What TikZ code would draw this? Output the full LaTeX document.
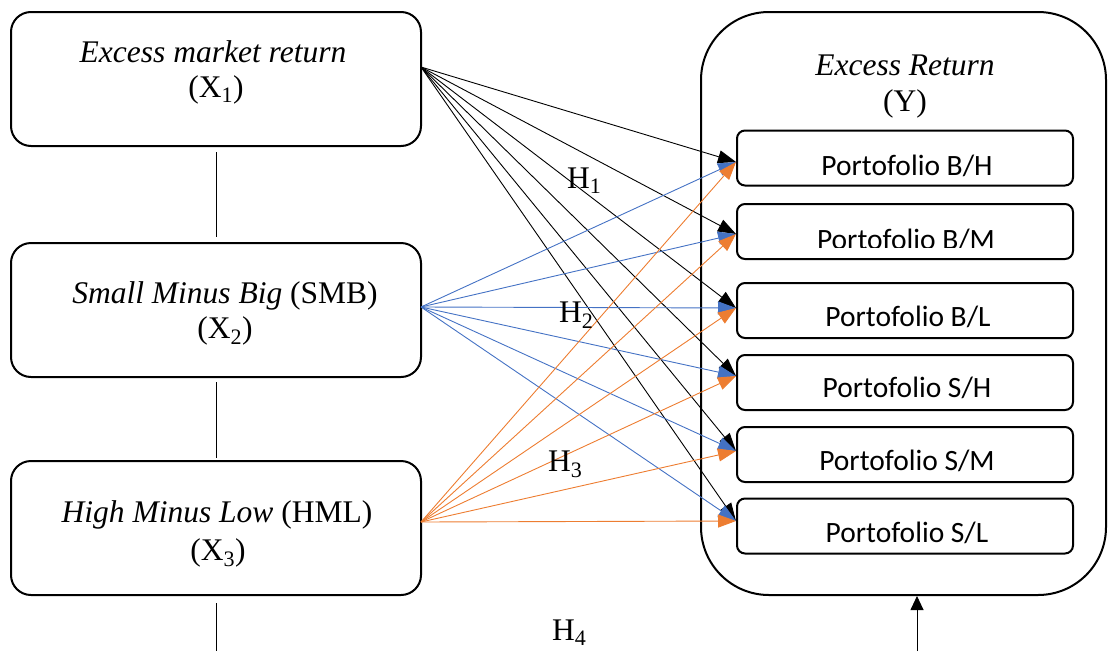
\documentclass[tikz,border=0pt]{standalone}
\usepackage{fontspec}
\setmainfont{Liberation Serif}
\newfontfamily\calfont{Carlito}
\usetikzlibrary{arrows.meta}
\definecolor{myblue}{HTML}{4472C4}
\definecolor{myorange}{HTML}{ED7D31}
\begin{document}
\begin{tikzpicture}[x=1pt,y=-1pt,
  leftbox/.style={draw, line width=2pt, rounded corners=20pt, minimum width=410pt, minimum height=134pt, inner sep=0pt},
  pbox/.style={draw, line width=2pt, rounded corners=8pt, minimum width=336pt, minimum height=55pt, inner sep=0pt},
  bigbox/.style={draw, line width=2pt, rounded corners=68pt, minimum width=405pt, minimum height=583pt, inner sep=0pt},
  serif/.style={anchor=base, inner sep=0pt, font=\fontsize{31.5}{35}\selectfont},
  ptext/.style={anchor=base, inner sep=0pt, font=\calfont\fontsize{29.5}{33}\selectfont},
  arr/.style={-{Triangle[length=18pt,width=13pt]}, line width=0.9pt},
  uparr/.style={-{Triangle[length=14pt,width=13pt]}, line width=0.9pt},
  plain/.style={line width=0.9pt}]
\useasboundingbox (0,0) rectangle (1108,651);

% left boxes
\node[leftbox] (b1) at (216,79) {};
\node[leftbox] (b2) at (216,310) {};
\node[leftbox] (b3) at (216,528) {};
\node[serif] (b1t1) at (213,62) {\textit{Excess market return}};
\node[serif] (b1t2) at (216,97) {(X\textsubscript{1})};
\node[serif] (b2t1) at (225,303) {\textit{Small Minus Big} (SMB)};
\node[serif] (b2t2) at (225,338) {(X\textsubscript{2})};
\node[serif] (b3t1) at (217,522) {\textit{High Minus Low} (HML)};
\node[serif] (b3t2) at (218,560) {(X\textsubscript{3})};

% vertical connectors
\coordinate (v1a) at (216,152); \coordinate (v1b) at (216,237);
\coordinate (v2a) at (216,382); \coordinate (v2b) at (216,458);
\coordinate (v3a) at (216,603); \coordinate (v3b) at (216,651);
\draw[plain] (v1a) -- (v1b);
\draw[plain] (v2a) -- (v2b);
\draw[plain] (v3a) -- (v3b);

% big box
\node[bigbox] (Y) at (903.5,303.5) {};
\node[serif] (Yt1) at (905,75) {\textit{Excess Return}};
\node[serif] (Yt2) at (905,111) {(Y)};

% portfolio boxes
\node[pbox] (p1) at (905,158) {};
\node[pbox] (p2) at (905,231.5) {};
\node[pbox] (p3) at (905,310.5) {};
\node[pbox] (p4) at (905,382.5) {};
\node[pbox] (p5) at (905,454.5) {};
\node[pbox] (p6) at (905,526) {};
\node[ptext] (p1t) at (907,175) {Portofolio B/H};
\begin{scope}
\clip (737,200) rectangle (1073,247);
\node[ptext] (p2t) at (906,249) {Portofolio B/M};
\end{scope}
\node[ptext] (p3t) at (908,326) {Portofolio B/L};
\node[ptext] (p4t) at (907,397) {Portofolio S/H};
\node[ptext] (p5t) at (907,470) {Portofolio S/M};
\node[ptext] (p6t) at (907,542) {Portofolio S/L};

% sources and targets
\coordinate (s1) at (421,67);
\coordinate (s2) at (421,307);
\coordinate (s3) at (421,522);
\coordinate (t1) at (736,162);
\coordinate (t2) at (736,234);
\coordinate (t3) at (736,308);
\coordinate (t4) at (736,376);
\coordinate (t5) at (736,451);
\coordinate (t6) at (736,521);

\foreach \t in {t1,t2,t3,t4,t5,t6}{\draw[arr, black] (s1) -- (\t);}
\foreach \t in {t1,t2,t3,t4,t5,t6}{\draw[arr, myblue] (s2) -- (\t);}
\foreach \t in {t1,t2,t3,t4,t5,t6}{\draw[arr, myorange] (s3) -- (\t);}

% bottom arrow
\coordinate (ybot) at (917,651);
\draw[uparr, black] (ybot) -- (Y.south -| ybot);

% hypothesis labels
\node[serif, anchor=base west] (h1) at (567,188) {H\textsubscript{1}};
\node[serif, anchor=base west] (h2) at (559,322) {H\textsubscript{2}};
\node[serif, anchor=base west] (h3) at (548,471) {H\textsubscript{3}};
\node[serif, anchor=base west] (h4) at (552,640) {H\textsubscript{4}};
\end{tikzpicture}
\end{document}
